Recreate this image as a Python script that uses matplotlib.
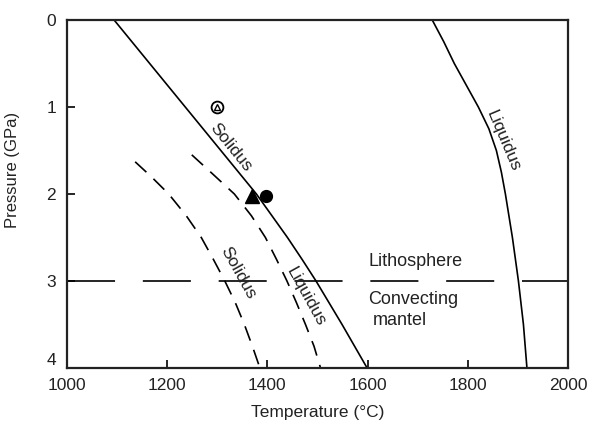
import matplotlib
matplotlib.use("Agg")
import matplotlib.pyplot as plt

plt.rcParams['font.family'] = ['Liberation Sans', 'DejaVu Sans']
plt.rcParams['lines.scale_dashes'] = False

# solid solidus (T in degC, P in GPa)
solidus_T = [1094, 1165, 1236, 1307, 1378, 1409, 1440, 1469, 1497, 1549, 1599]
solidus_P = [0.0, 0.5, 1.0, 1.5, 2.0, 2.25, 2.5, 2.75, 3.0, 3.5, 4.0]

# solid liquidus
liquidus_T = [1729, 1752, 1773, 1797, 1821, 1842, 1857, 1867, 1875, 1889, 1901, 1911, 1918]
liquidus_P = [0.0, 0.25, 0.5, 0.75, 1.0, 1.25, 1.5, 1.75, 2.0, 2.5, 3.0, 3.5, 4.0]

# dashed solidus
dsol_T = [1136, 1168, 1203, 1238, 1268, 1292, 1315, 1336, 1354, 1370, 1385]
dsol_P = [1.63, 1.8, 2.0, 2.25, 2.5, 2.75, 3.0, 3.25, 3.5, 3.75, 4.0]

# dashed liquidus
dliq_T = [1249, 1287, 1334, 1368, 1396, 1418, 1439, 1458, 1476, 1493, 1506]
dliq_P = [1.55, 1.75, 2.0, 2.25, 2.5, 2.75, 3.0, 3.25, 3.5, 3.75, 4.0]

# experiment points
open_pt = (1300, 1.0)
tri_pt = (1370, 2.02)
dot_pt = (1398, 2.02)

boundary_P = 3.0

x_ticks = [1000, 1200, 1400, 1600, 1800, 2000]
y_ticks = [0, 1, 2, 3, 4]

txt = '#222222'

fig = plt.figure(figsize=(5.92, 4.21), dpi=100)
ax = fig.add_axes([0.1132, 0.1259, 0.8463, 0.8266])

ax.plot(solidus_T, solidus_P, color='black', lw=1.2)
ax.plot(liquidus_T, liquidus_P, color='black', lw=1.2)
ax.plot(dsol_T, dsol_P, color='black', lw=1.2, dashes=(11, 7))
ax.plot(dliq_T, dliq_P, color='black', lw=1.2, dashes=(11, 7))
ax.axhline(boundary_P, color='black', lw=1.2, dashes=(34.6, 20))

ax.plot(*open_pt, marker='o', ms=8.5, mfc='white', mec='black', mew=1.3)
ax.plot(*open_pt, marker='^', ms=5, mfc='white', mec='black', mew=1.0)
ax.plot(*tri_pt, marker='^', ms=10, color='black')
ax.plot(*dot_pt, marker='o', ms=8.5, color='black')

ax.text(1327, 1.46, 'Solidus', rotation=-51, ha='center', va='center',
        fontsize=12.5, color=txt)
ax.text(1870, 1.39, 'Liquidus', rotation=-67, ha='center', va='center',
        fontsize=12.5, color=txt)
ax.text(1341, 2.91, 'Solidus', rotation=-61, ha='center', va='center',
        fontsize=12.5, color=txt)
ax.text(1477, 3.18, 'Liquidus', rotation=-61, ha='center', va='center',
        fontsize=12.5, color=txt)
ax.text(1601, 2.78, 'Lithosphere', ha='left', va='center', fontsize=13, color=txt)
ax.text(1601, 3.21, 'Convecting', ha='left', va='center', fontsize=13, color=txt)
ax.text(1611, 3.45, 'mantel', ha='left', va='center', fontsize=13, color=txt)

ax.set_xlim(1000, 2000)
ax.set_ylim(4, 0)
ax.set_xticks(x_ticks)
ax.set_yticks(y_ticks)
ax.tick_params(direction='in', length=6, width=1.2, labelsize=12.5,
               labelcolor=txt, color='black')
ax.tick_params(axis='x', pad=7)
ax.tick_params(axis='y', pad=8)
ax.get_yticklabels()[-1].set_va('bottom')
for s in ax.spines.values():
    s.set_linewidth(1.6)
    s.set_color('#222222')

ax.set_xlabel('Temperature (\u00b0C)', fontsize=12.5, color=txt, labelpad=9)
ax.set_ylabel('Pressure (GPa)', fontsize=12, color=txt)
ax.yaxis.set_label_coords(-0.094, 0.57)

fig.savefig('out.png', dpi=100)
